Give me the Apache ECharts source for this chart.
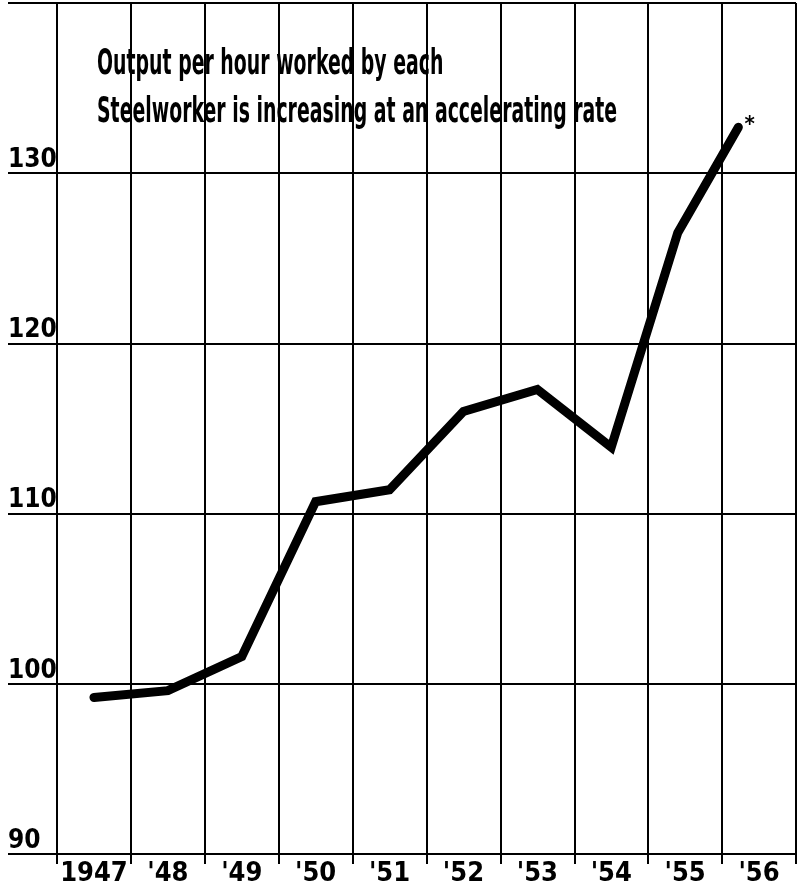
<!DOCTYPE html>
<html>
<head>
<meta charset="utf-8">
<script src="https://cdn.jsdelivr.net/npm/echarts@6/dist/echarts.min.js"></script>
<style>
  html, body { margin: 0; padding: 0; background: #fff; }
  #chart { width: 799px; height: 890px; }
</style>
</head>
<body>
<div id="chart"></div>
<script>
  // years on the bottom axis
  var years = ['1947', "'48", "'49", "'50", "'51", "'52", "'53", "'54", "'55", "'56"];
  // where each point sits along the year axis (0 = 1947), '56 is an estimate (*)
  var yearPos = [0, 1, 2, 3, 4, 5, 6, 7, 7.9, 8.72];
  // output per man-hour index
  var output = [99.2, 99.6, 101.6, 110.7, 111.4, 116.0, 117.3, 113.9, 126.5, 132.7];
  var yMin = 90, yMax = 140, yStep = 10;

  var font = '"Liberation Sans Narrow", "DejaVu Sans Condensed", sans-serif';
  var ink = '#000';

  var chart = echarts.init(document.getElementById('chart'));

  var points = output.map(function (v, i) {
    var p = { value: [yearPos[i], v] };
    if (i === output.length - 1) {
      p.label = {
        show: true, formatter: '*', position: 'right', distance: 6, offset: [0, -2],
        fontSize: 22, fontWeight: 'bold', color: ink, fontFamily: font
      };
    }
    return p;
  });

  var option = {
    animation: false,
    backgroundColor: '#fff',
    // heading drawn as text, squeezed sideways to look like the tall condensed face
    graphic: [{
      type: 'text', left: 97, top: 41, scaleX: 0.6, z: 10,
      style: {
        text: 'Output per hour worked by each\nSteelworker is increasing at an accelerating rate',
        fontFamily: font, fontWeight: 'bold', fontSize: 35, lineHeight: 48, fill: ink
      }
    }],
    grid: [
      { left: 8, right: 3, top: 3, bottom: 36 },   // horizontal rules + value labels
      { left: 57, right: 3, top: 3, bottom: 36 }   // year columns + line
    ],
    xAxis: [
      { gridIndex: 0, type: 'value', show: false, min: 0, max: 1 },
      {
        gridIndex: 1, type: 'category', data: years, boundaryGap: true,
        axisLine: { show: true, lineStyle: { color: ink, width: 2 } },
        axisTick: { show: true, interval: 0, length: 10, lineStyle: { color: ink, width: 2 } },
        axisLabel: {
          interval: 0, margin: 6, color: ink, fontFamily: font,
          fontWeight: 'bold', fontSize: 27
        },
        splitLine: { show: true, interval: 0, lineStyle: { color: ink, width: 2 } }
      },
      { gridIndex: 1, type: 'value', show: false, min: -0.5, max: 9.5 }
    ],
    yAxis: [
      {
        gridIndex: 0, type: 'value', min: yMin, max: yMax, interval: yStep,
        axisLine: { show: false }, axisTick: { show: false },
        splitLine: { show: true, lineStyle: { color: ink, width: 2 } },
        axisLabel: {
          inside: true, margin: 0, showMaxLabel: false, verticalAlign: 'bottom',
          padding: [0, 0, 0, 0], color: ink, fontFamily: font,
          fontWeight: 'bold', fontSize: 26
        }
      },
      { gridIndex: 1, type: 'value', min: yMin, max: yMax, show: false }
    ],
    series: [{
      type: 'line',
      xAxisIndex: 2, yAxisIndex: 1,
      data: points,
      symbol: 'circle',
      symbolSize: 0.1,
      itemStyle: { color: '#000' },
      lineStyle: { color: '#000', width: 9, join: 'miter', cap: 'round' },
      z: 5
    }]
  };

  chart.setOption(option);
</script>
</body>
</html>
